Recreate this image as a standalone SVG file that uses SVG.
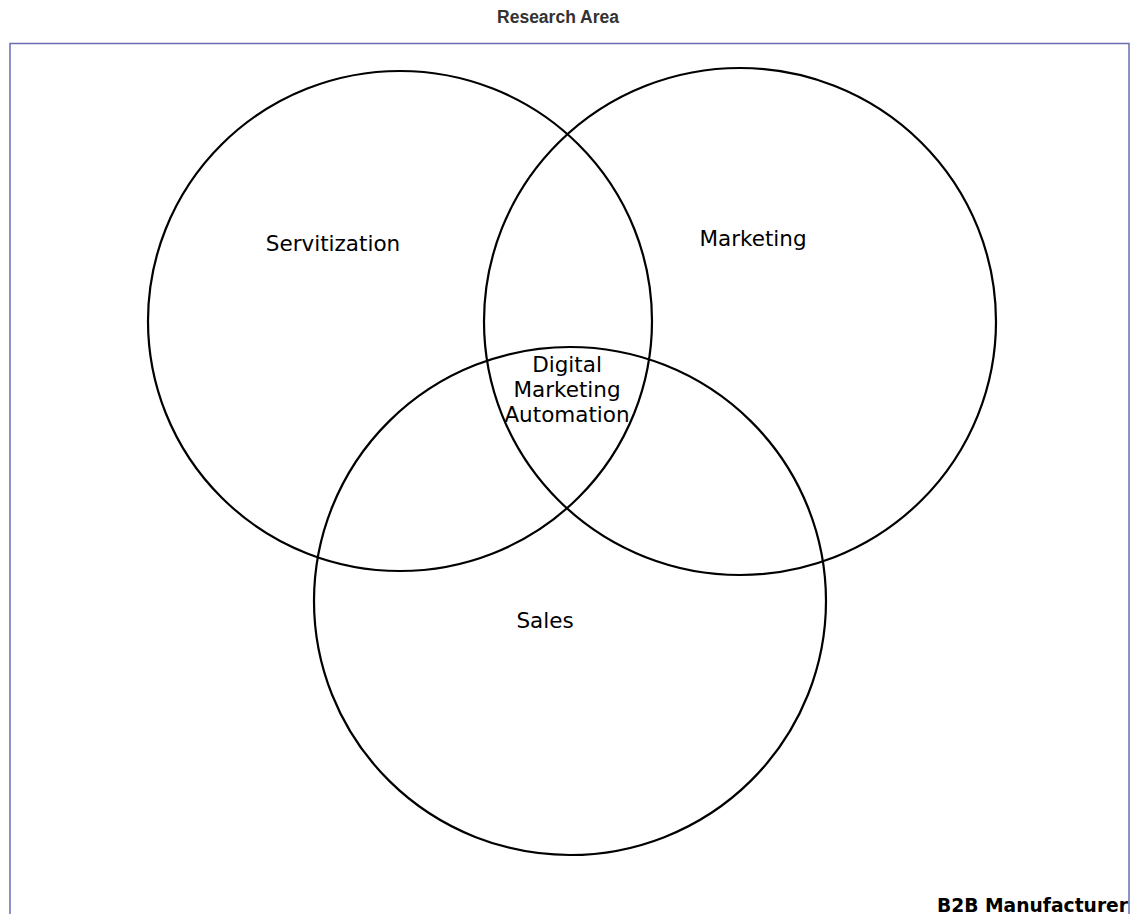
<svg xmlns="http://www.w3.org/2000/svg" width="1139" height="914" viewBox="0 0 1139 914">
  <style>
    .set { fill: none; stroke: #000; stroke-width: 2.2; }
    .label { font-family: "DejaVu Sans", Verdana, sans-serif; font-size: 21.5px; fill: #000; text-anchor: middle; }
    .title { font-family: "Liberation Sans", Arial, sans-serif; font-size: 17.5px; font-weight: bold; fill: #333; text-anchor: middle; }
    .frame { fill: none; stroke: #6a6cb2; stroke-width: 1.5; }
    .corner { font-family: "DejaVu Sans", Verdana, sans-serif; font-size: 18.7px; font-weight: bold; fill: #000; text-anchor: end; }
  </style>
  <rect width="1139" height="914" fill="#fff"/>
  <text class="title" x="558" y="23">Research Area</text>
  <g id="b2b-manufacturer">
    <rect class="frame" x="10" y="43.5" width="1119" height="900"/>
    <text class="corner" x="1128" y="912">B2B Manufacturer</text>
  </g>
  <g id="connectors"/>
  <g id="servitization">
    <ellipse class="set" cx="400" cy="321" rx="252" ry="250"/>
    <text class="label" x="333" y="251">Servitization</text>
  </g>
  <g id="marketing">
    <ellipse class="set" cx="740" cy="321.5" rx="256" ry="253.5"/>
    <text class="label" x="753" y="246">Marketing</text>
  </g>
  <g id="sales">
    <ellipse class="set" cx="570" cy="601" rx="256" ry="254"/>
    <text class="label" x="545" y="628">Sales</text>
  </g>
  <g id="digital-marketing-automation">
    <text class="label" x="567" y="372">Digital</text>
    <text class="label" x="567" y="397">Marketing</text>
    <text class="label" x="567" y="422">Automation</text>
  </g>
</svg>
